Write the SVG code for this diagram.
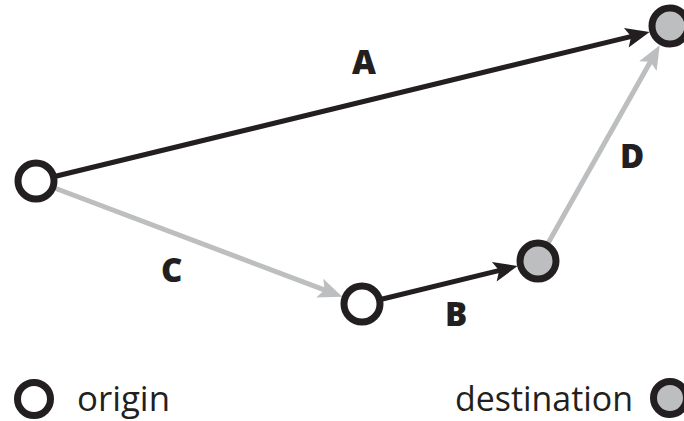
<svg xmlns="http://www.w3.org/2000/svg" width="684" height="421" viewBox="0 0 684 421">
<style>
.bg{fill:#ffffff}
.edge{fill:none;stroke-width:5}
.dark{stroke:#231f20}
.light{stroke:#bcbec0}
.node{stroke:#231f20;stroke-width:7}
.orig{fill:#ffffff}
.dest{fill:#bcbec0}
.lbl{font-family:"Open Sans","Noto Sans",sans-serif;font-weight:800;font-size:33px;fill:#231f20}
.leg{font-family:"Open Sans","Noto Sans",sans-serif;font-size:35px;fill:#231f20}
</style>
<defs>
<marker id="ahD" markerUnits="userSpaceOnUse" markerWidth="26" markerHeight="20" refX="14" refY="10" orient="auto" overflow="visible">
<path d="M0,0 L24,10 L0,20 L5,10 z" fill="#231f20"/>
</marker>
<marker id="ahL" markerUnits="userSpaceOnUse" markerWidth="26" markerHeight="20" refX="14" refY="10" orient="auto" overflow="visible">
<path d="M0,0 L24,10 L0,20 L5,10 z" fill="#bcbec0"/>
</marker>
</defs>
<rect class="bg" x="0" y="0" width="684" height="421"/>
<g id="connectors">
<line id="edge-A" class="edge dark" x1="36" y1="181" x2="639.9" y2="34.4" marker-end="url(#ahD)"/>
<line id="edge-C" class="edge light" x1="36" y1="181" x2="332.9" y2="293.1" marker-end="url(#ahL)"/>
<line id="edge-B" class="edge dark" x1="362" y1="304" x2="507.9" y2="268.4" marker-end="url(#ahD)"/>
<line id="edge-D" class="edge light" x1="538" y1="261" x2="654.8" y2="54" marker-end="url(#ahL)"/>
<text class="lbl" x="352" y="74">A</text>
<text class="lbl" x="445" y="326">B</text>
<text class="lbl" x="161" y="282">C</text>
<text class="lbl" x="620" y="168">D</text>
</g>
<g id="node-origin">
<circle class="node orig" cx="36" cy="181" r="18"/>
</g>
<g id="node-mid">
<circle class="node orig" cx="362" cy="304" r="18"/>
</g>
<g id="node-dest1">
<circle class="node dest" cx="538" cy="261" r="18"/>
</g>
<g id="node-dest2">
<circle class="node dest" cx="670" cy="26" r="18"/>
</g>
<g id="legend">
<circle class="node orig" cx="34" cy="399" r="16.5"/>
<text class="leg" x="77" y="411" textLength="93" lengthAdjust="spacingAndGlyphs">origin</text>
<text class="leg" x="455" y="411" textLength="178" lengthAdjust="spacingAndGlyphs">destination</text>
<circle class="node dest" cx="670" cy="398" r="16.5"/>
</g>
</svg>
